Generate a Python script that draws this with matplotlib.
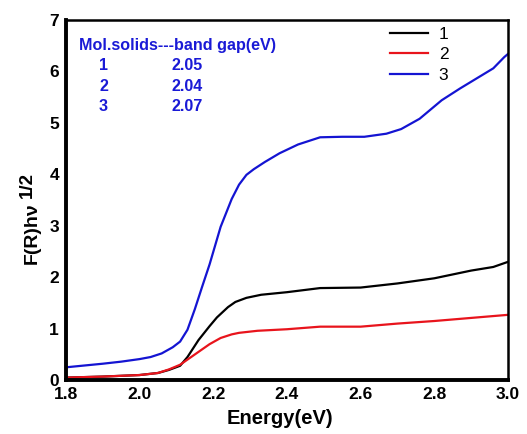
import matplotlib.pyplot as plt

plt.rcParams['font.family'] = ['Liberation Sans', 'DejaVu Sans']

# photon energy (eV) for each curve
energy_1 = [1.80, 1.90, 2.00, 2.05, 2.08, 2.11, 2.13, 2.16, 2.19, 2.21, 2.24, 2.26,
            2.29, 2.33, 2.40, 2.49, 2.60, 2.70, 2.80, 2.90, 2.96, 3.00]
energy_2 = [1.80, 1.90, 2.00, 2.05, 2.08, 2.11, 2.15, 2.19, 2.22, 2.25, 2.27, 2.32,
            2.40, 2.49, 2.60, 2.70, 2.80, 2.90, 3.00]
energy_3 = [1.80, 1.90, 1.95, 2.00, 2.03, 2.06, 2.09, 2.11, 2.13, 2.15, 2.17, 2.19,
            2.22, 2.25, 2.27, 2.29, 2.31, 2.34, 2.38, 2.43, 2.49, 2.55, 2.61, 2.67,
            2.71, 2.76, 2.82, 2.87, 2.93, 2.96, 2.99, 3.00]

# Kubelka-Munk function for each sample
km_1 = [0.05, 0.07, 0.10, 0.14, 0.20, 0.28, 0.45, 0.78, 1.05, 1.22, 1.42, 1.52,
        1.60, 1.66, 1.71, 1.79, 1.80, 1.88, 1.98, 2.13, 2.20, 2.30]
km_2 = [0.05, 0.07, 0.10, 0.14, 0.21, 0.30, 0.50, 0.70, 0.82, 0.89, 0.92, 0.96,
        0.99, 1.04, 1.04, 1.10, 1.15, 1.21, 1.27]
km_3 = [0.25, 0.32, 0.36, 0.41, 0.45, 0.52, 0.64, 0.75, 0.98, 1.38, 1.82, 2.25,
        2.98, 3.52, 3.80, 3.99, 4.10, 4.24, 4.41, 4.58, 4.72, 4.73, 4.73, 4.79,
        4.88, 5.08, 5.44, 5.67, 5.93, 6.06, 6.28, 6.34]

labels = ['1', '2', '3']
colors = ['black', '#e8141c', '#1414d2']
gaps = ['2.05', '2.04', '2.07']

fig = plt.figure(figsize=(5.27, 4.34), dpi=100)
ax = fig.add_axes([0.125, 0.124, 0.839, 0.830])

for x, y, lab, c in zip([energy_1, energy_2, energy_3], [km_1, km_2, km_3],
                        labels, colors):
    ax.plot(x, y, color=c, lw=1.6, label=lab)

ax.set_xlim(1.8, 3.0)
ax.set_ylim(0, 7)
ax.set_xticks([1.8, 2.0, 2.2, 2.4, 2.6, 2.8, 3.0])
ax.set_xticklabels(['1.8', '2.0', '2.2', '2.4', '2.6', '2.8', '3.0'])
ax.set_yticks(range(8))
ax.tick_params(length=0, labelsize=12.5, pad=5)
for t in ax.get_xticklabels() + ax.get_yticklabels():
    t.set_fontweight('bold')

ax.spines['left'].set_linewidth(2.8)
ax.spines['bottom'].set_linewidth(2.8)
ax.spines['top'].set_linewidth(1.8)
ax.spines['right'].set_linewidth(1.8)

ax.set_xlabel('Energy(eV)', fontsize=14.5, fontweight='bold')
ax.xaxis.set_label_coords(0.484, -0.08)

# y label with a full-size raised exponent
fig.text(32.5 / 527, 1 - 233 / 434, 'F(R)hν', rotation=90, fontsize=14,
         fontweight='bold', ha='center', va='center')
fig.text(27.5 / 527, 1 - 185 / 434, '1/2', rotation=90, fontsize=13.5,
         fontweight='bold', ha='center', va='center')

ax.legend(loc='upper right', frameon=False, fontsize=12.5, handlelength=2.2,
          handletextpad=0.6, borderaxespad=0.0, labelspacing=0.3,
          bbox_to_anchor=(0.881, 1.0))

blue = '#1a1ad6'
ax.text(0.03, 0.93, 'Mol.solids---band gap(eV)', transform=ax.transAxes,
        color=blue, fontsize=11.6, fontweight='bold', va='center')
for i, (lab, g) in enumerate(zip(labels, gaps)):
    yy = 0.873 - i * 0.057
    ax.text(0.075, yy, lab, transform=ax.transAxes, color=blue,
            fontsize=11.6, fontweight='bold', va='center')
    ax.text(0.24, yy, g, transform=ax.transAxes, color=blue,
            fontsize=11.6, fontweight='bold', va='center')

fig.savefig('out.png', dpi=100)
